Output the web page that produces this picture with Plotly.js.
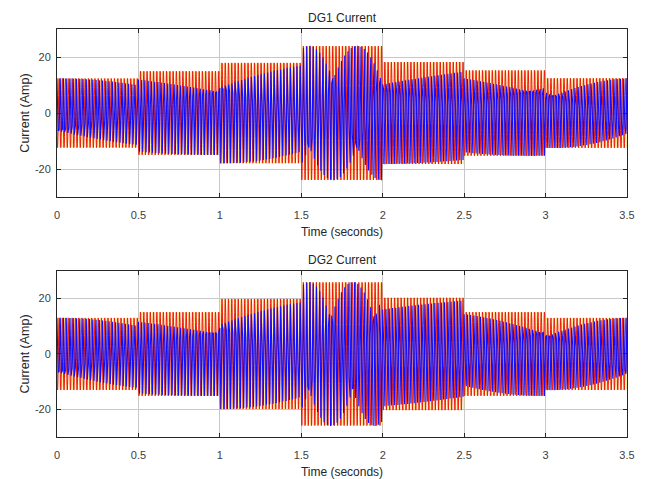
<!DOCTYPE html>
<html>
<head>
<meta charset="utf-8">
<script src="https://cdn.plot.ly/plotly-3.0.1.min.js"></script>
<style>html,body{margin:0;padding:0;background:#fff;}#chart{width:650px;height:479px;}</style>
</head>
<body>
<div id="chart"></div>
<script>
// ---- data ----
const segmentStarts = [0, 0.5, 1, 1.5, 2, 2.5, 3];          // s, load-step instants
const endTime = 3.5;                                          // s
const dg1Amplitude = [12.4, 15, 18, 24, 18.3, 15.3, 12.5];    // A, peak current per segment
const dg2Amplitude = [13.1, 15.2, 20, 26, 20.4, 15.2, 13.1];  // A, peak current per segment
// phase-C frequency deviation per segment (Hz), read from the slow beat lines it leaves in the plot
const dg1PhaseCDev = [0.206, 0.128, 0.222, 1.133, 0.111, -0.167, 0.333];
const dg2PhaseCDev = [0.222, 0.122, 0.206, 1.239, 0.106, -0.239, 0.328];
const phaseCStartDeg = [90, 90];   // DG1, DG2
const nominalFreq = 50;            // Hz
const denseRate = 1000;            // samples/s for phases A,B
const coarseRate = 150;            // samples/s kept for phase C
const phaseNames = ['Phase A', 'Phase B', 'Phase C'];
const phaseShiftDeg = [0, -120, 120];
const phaseColors = ['#ffd800', '#e81a10', '#1010ff'];
const phaseWidths = [0.35, 1, 1.1];
const xTickVals = [0, 0.5, 1, 1.5, 2, 2.5, 3, 3.5];
const xTickText = ['0', '0.5', '1', '1.5', '2', '2.5', '3', '3.5'];
const yTickVals = [-20, 0, 20];
const yTickText = ['-20', '0', '20'];
const titles = ['DG1 Current', 'DG2 Current'];

function segIndex(t){
  let k = 0;
  for (let i = 0; i < segmentStarts.length; i++) if (t >= segmentStarts[i] - 1e-9) k = i;
  return k;
}
function buildTraces(amp, dev, startDeg, xa, ya){
  const traces = [];
  // phases A and B, densely sampled
  for (let p = 0; p < 2; p++){
    const n = Math.round(endTime * denseRate), t = [], y = [];
    for (let j = 0; j <= n; j++){
      const tj = j / denseRate;
      t.push(tj);
      y.push(amp[segIndex(tj)] * Math.sin(2 * Math.PI * nominalFreq * tj + (startDeg + phaseShiftDeg[p] - 120) * Math.PI / 180));
    }
    traces.push({type: 'scatter', mode: 'lines', name: phaseNames[p], x: t, y: y,
      line: {color: phaseColors[p], width: phaseWidths[p], simplify: false}, xaxis: xa, yaxis: ya, showlegend: false, hoverinfo: 'skip'});
  }
  // phase C, coarse samples (about three per cycle)
  const n = Math.round(endTime * coarseRate), t = [], y = [];
  let th = startDeg * Math.PI / 180;
  for (let j = 0; j <= n; j++){
    const tj = j / coarseRate, k = segIndex(tj);
    t.push(tj);
    y.push(amp[k] * Math.sin(th));
    th += 2 * Math.PI * (nominalFreq + dev[k]) / coarseRate;
  }
  traces.push({type: 'scatter', mode: 'lines', name: phaseNames[2], x: t, y: y,
    line: {color: phaseColors[2], width: phaseWidths[2], simplify: false}, xaxis: xa, yaxis: ya, showlegend: false, hoverinfo: 'skip'});
  return traces;
}

const data = [
  ...buildTraces(dg1Amplitude, dg1PhaseCDev, phaseCStartDeg[0], 'x', 'y'),
  ...buildTraces(dg2Amplitude, dg2PhaseCDev, phaseCStartDeg[1], 'x2', 'y2')
];

const font = {family: '"Liberation Sans", Arial, sans-serif', size: 11, color: '#262626'};
function xAxis(anchor){
  return {anchor: anchor, domain: [0, 1], range: [0, 3.5], tickvals: xTickVals, ticktext: xTickText,
    showgrid: true, gridcolor: '#c8c8c8', gridwidth: 1, zeroline: false,
    showline: true, linecolor: '#262626', linewidth: 1, mirror: 'ticks', ticks: 'inside', ticklen: 4,
    tickcolor: '#262626', tickfont: {size: 11, color: '#404040'}, ticklabelstandoff: 8,
    title: {text: 'Time (seconds)', font: {size: 12, color: '#262626'}, standoff: 7}};
}
function yAxis(anchor, domain){
  return {anchor: anchor, domain: domain, range: [-30, 30], tickvals: yTickVals, ticktext: yTickText,
    showgrid: true, gridcolor: '#c8c8c8', gridwidth: 1, zeroline: false,
    showline: true, linecolor: '#262626', linewidth: 1, mirror: 'ticks', ticks: 'inside', ticklen: 4,
    tickcolor: '#262626', tickfont: {size: 11, color: '#404040'}, ticklabelstandoff: 3,
    title: {text: 'Current (Amp)', font: {size: 12.5, color: '#262626'}, standoff: 2}};
}
const layout = {
  width: 650, height: 479,
  margin: {l: 57, r: 23, t: 29, b: 42},
  paper_bgcolor: '#ffffff', plot_bgcolor: '#ffffff',
  font: font, showlegend: false,
  xaxis: xAxis('y'),
  yaxis: yAxis('x', [0.588, 1]),
  xaxis2: xAxis('y2'),
  yaxis2: yAxis('x2', [0, 0.407]),
  annotations: [
    {text: titles[0], xref: 'paper', yref: 'paper', x: 0.5, y: 1, yshift: 2, yanchor: 'bottom', showarrow: false, font: {size: 12, color: '#262626'}},
    {text: titles[1], xref: 'paper', yref: 'paper', x: 0.5, y: 0.407, yshift: 2, yanchor: 'bottom', showarrow: false, font: {size: 12, color: '#262626'}}
  ]
};
Plotly.newPlot('chart', data, layout, {staticPlot: true, displayModeBar: false});
</script>
</body>
</html>
